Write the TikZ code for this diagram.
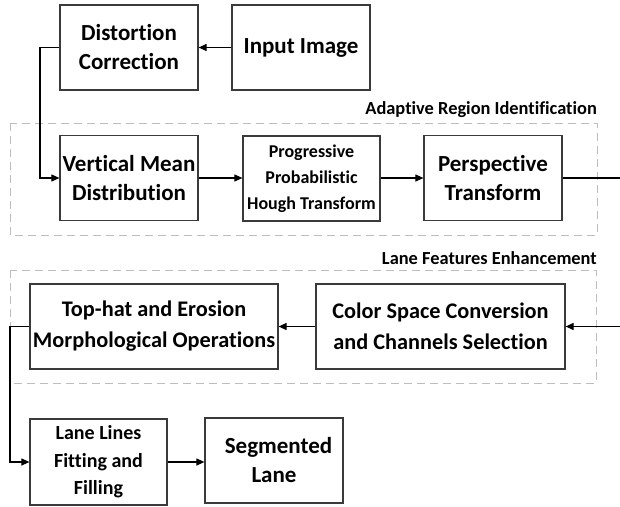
\documentclass[tikz,border=0pt]{standalone}
\usepackage{fontspec}
\setmainfont{Carlito}[Ligatures=NoCommon, RawFeature={-liga;-dlig;-clig}]
\usetikzlibrary{arrows.meta}
\definecolor{boxline}{HTML}{3A3A3A}
\definecolor{groupline}{HTML}{BDBDBD}
\tikzset{
  stepbox/.style={draw=boxline, line width=1.2pt, rectangle, inner sep=0pt,
    align=center, font=\bfseries\fontsize{23}{29}\selectfont},
  groupbox/.style={draw=groupline, line width=1pt, dash pattern=on 8pt off 5pt},
  grouplabel/.style={inner sep=0pt, font=\bfseries\fontsize{18.4}{22}\selectfont},
  flow/.style={draw=black, line width=1.1pt, -{Triangle[length=8pt,width=7pt]}},
  link/.style={draw=black, line width=1.1pt}
}
\begin{document}
\begin{tikzpicture}[x=1pt,y=-1pt]
\useasboundingbox (0,0) rectangle (620,506);

% grouping frames
\draw[groupbox] (10,123) rectangle (597,235);
\draw[groupbox] (10,270) rectangle (596,383);
\node[grouplabel, anchor=base east] (lblA) at (597,114) {Adaptive Region Identification};
\node[grouplabel, anchor=base east] (lblB) at (597,264) {Lane Features Enhancement};

% processing steps
\node[stepbox, minimum width=138pt, minimum height=85pt] (dist) at (129,47.5) {Distortion\\Correction};
\node[stepbox, minimum width=138pt, minimum height=85pt] (input) at (301,47.5) {Input Image};
\node[stepbox, minimum width=138pt, minimum height=85pt] (vmd) at (129,178) {Vertical Mean\\Distribution};
\node[stepbox, minimum width=137pt, minimum height=85pt, font=\bfseries\fontsize{18}{26}\selectfont] (ppht) at (311.5,178.5) {Progressive\\Probabilistic\\Hough Transform};
\node[stepbox, minimum width=138pt, minimum height=85pt] (persp) at (493,178) {Perspective\\Transform};
\node[stepbox, minimum width=248pt, minimum height=85pt, font=\bfseries\fontsize{22.3}{31}\selectfont] (tophat) at (154,326.5) {Top-hat and Erosion\\Morphological Operations};
\node[stepbox, minimum width=249pt, minimum height=85pt, font=\bfseries\fontsize{22.3}{31}\selectfont] (color) at (440.5,326.5) {Color Space Conversion\\and Channels Selection};
\node[stepbox, minimum width=137pt, minimum height=86pt, font=\bfseries\fontsize{20}{27.5}\selectfont] (fit) at (98.5,462) {Lane Lines\\Fitting and\\Filling};
\node[stepbox, minimum width=138pt, minimum height=85pt] (seg) at (274,460.5) {\hspace*{9pt}Segmented\\Lane};

% free ends at the page edge
\coordinate (outA) at (620,178);
\coordinate (inB) at (620,326.5);

% connectors
\draw[flow] (input.west) -- (dist.east);
\draw[flow] (dist.west) -- (40,47.5) |- (vmd.west);
\draw[flow] (vmd.east) -- (ppht.west |- vmd.east);
\draw[flow] (ppht.east |- persp.west) -- (persp.west);
\draw[link] (persp.east) -- (outA);
\draw[flow] (inB) -- (color.east);
\draw[flow] (color.west) -- (tophat.east);
\draw[flow] (tophat.west) -- (10,326.5) |- (fit.west);
\draw[flow] (fit.east) -- (seg.west |- fit.east);
\end{tikzpicture}
\end{document}
